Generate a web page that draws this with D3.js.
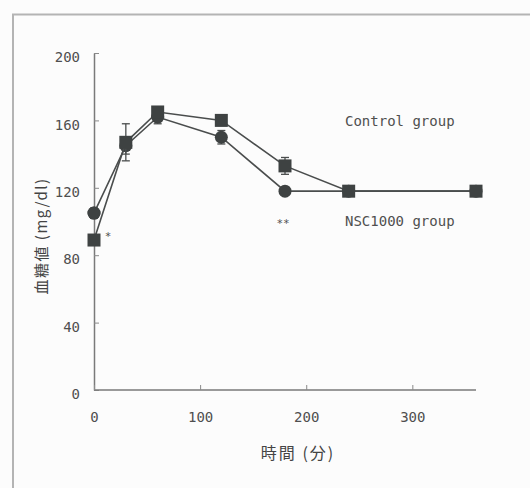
<!DOCTYPE html>
<html><head><meta charset="utf-8">
<script src="https://cdn.jsdelivr.net/npm/d3@7"></script>
<style>
html,body{margin:0;padding:0;background:#fcfcfc;}
svg{display:block;}
</style></head>
<body>
<svg id="chart" width="530" height="488"></svg>
<script>
const times = [0, 30, 60, 120, 180, 240, 360];
const controlValues = [89, 147, 165, 160, 133, 118, 118];
const controlErrors = [3, 11, 3, 3, 5, 2, 2];
const nscValues = [105, 145, 162, 150, 118, 118, 118];
const nscErrors = [3, 5, 4, 4, 2, 2, 2];
const yTicks = [0, 40, 80, 120, 160, 200];
const xTicks = [0, 100, 200, 300];
const seriesNames = ["Control group", "NSC1000 group"];
const annotations = [{t: 0, v: 92, text: "*"}, {t: 180, v: 100, text: "**"}];

const svg = d3.select("#chart");
svg.append("rect").attr("width",530).attr("height",488).attr("fill","#fcfcfc");
// frame
svg.append("path").attr("d","M13,488V14.5H530").attr("fill","none").attr("stroke","#b4b4b4").attr("stroke-width",2);

const x = d3.scaleLinear().domain([0,360]).range([94,476]);
const y = d3.scaleLinear().domain([0,200]).range([390,53]);
const mono = "'DejaVu Sans Mono', monospace";
const textCol = "#4f4f4f";

// Y axis
const ya = svg.append("g").attr("transform","translate(94,0)")
  .call(d3.axisLeft(y).tickValues(yTicks).tickSizeInner(-5).tickSizeOuter(0).tickPadding(14));
ya.select(".domain").attr("stroke","#7a7a7a").attr("stroke-width",1.5);
ya.selectAll(".tick line").attr("stroke","#8a8a8a").attr("stroke-width",1);
ya.selectAll("text").attr("font-family",mono).attr("font-size",14).attr("fill",textCol).attr("dy","0.62em");

// X axis
const xa = svg.append("g").attr("transform","translate(0,390)")
  .call(d3.axisBottom(x).tickValues(xTicks).tickSizeInner(-5).tickSizeOuter(0).tickPadding(28));
xa.select(".domain").attr("d","M94,0H476").attr("stroke","#7a7a7a").attr("stroke-width",1.5);
xa.selectAll(".tick line").attr("stroke","#8a8a8a").attr("stroke-width",1);
xa.selectAll("text").attr("font-family",mono).attr("font-size",14).attr("fill",textCol).attr("dy","0.25em");

// titles
svg.append("text").attr("transform","translate(47,236) rotate(-90)").attr("text-anchor","middle")
  .attr("font-family","'Noto Sans CJK JP', sans-serif").attr("font-size",15).attr("letter-spacing",1.5).attr("fill","#444")
  .text("血糖値 (mg/dl)");
svg.append("text").attr("x",298).attr("y",459).attr("text-anchor","middle")
  .attr("font-family","'Noto Sans CJK JP', sans-serif").attr("font-size",16).attr("letter-spacing",2).attr("fill","#444")
  .text("時間 (分)");

const lineCol = "#4a4d4d", markCol = "#3e4242";
const line = d3.line().x((d,i)=>x(times[i])).y(d=>y(d));

function errorBars(vals, errs){
  const g = svg.append("g").attr("stroke","#4a4d4d").attr("stroke-width",1.3);
  vals.forEach((v,i)=>{
    const cx = x(times[i]);
    g.append("line").attr("x1",cx).attr("x2",cx).attr("y1",y(v-errs[i])).attr("y2",y(v+errs[i]));
    [v-errs[i], v+errs[i]].forEach(e=>{
      g.append("line").attr("x1",cx-4).attr("x2",cx+4).attr("y1",y(e)).attr("y2",y(e));
    });
  });
}

// NSC series (circles)
svg.append("path").datum(nscValues).attr("d",line).attr("fill","none").attr("stroke",lineCol).attr("stroke-width",1.6);
errorBars(nscValues, nscErrors);
svg.append("g").selectAll("circle").data(nscValues).join("circle")
  .attr("cx",(d,i)=>x(times[i])).attr("cy",d=>y(d)).attr("r",6.5).attr("fill",markCol);

// Control series (squares)
svg.append("path").datum(controlValues).attr("d",line).attr("fill","none").attr("stroke",lineCol).attr("stroke-width",1.6);
errorBars(controlValues, controlErrors);
svg.append("g").selectAll("rect").data(controlValues).join("rect")
  .attr("x",(d,i)=>x(times[i])-6.5).attr("y",d=>y(d)-6.5).attr("width",13).attr("height",13).attr("fill",markCol);

// redraw circle at 0 on top (visible above square in reference)
svg.append("circle").attr("cx",x(times[0])).attr("cy",y(nscValues[0])).attr("r",6.5).attr("fill",markCol);

// series labels
svg.append("text").attr("x",345).attr("y",126).attr("font-family",mono).attr("font-size",14).attr("fill",textCol).text(seriesNames[0]);
svg.append("text").attr("x",345).attr("y",226).attr("font-family",mono).attr("font-size",14).attr("fill",textCol).text(seriesNames[1]);

// significance marks
annotations.forEach(a=>{
  svg.append("text").attr("x",x(a.t)+(a.text.length===1?14:-2)).attr("y",y(a.v)+5).attr("text-anchor","middle")
    .attr("font-family",mono).attr("font-size",11).attr("fill",textCol).text(a.text);
});
</script>
</body></html>
